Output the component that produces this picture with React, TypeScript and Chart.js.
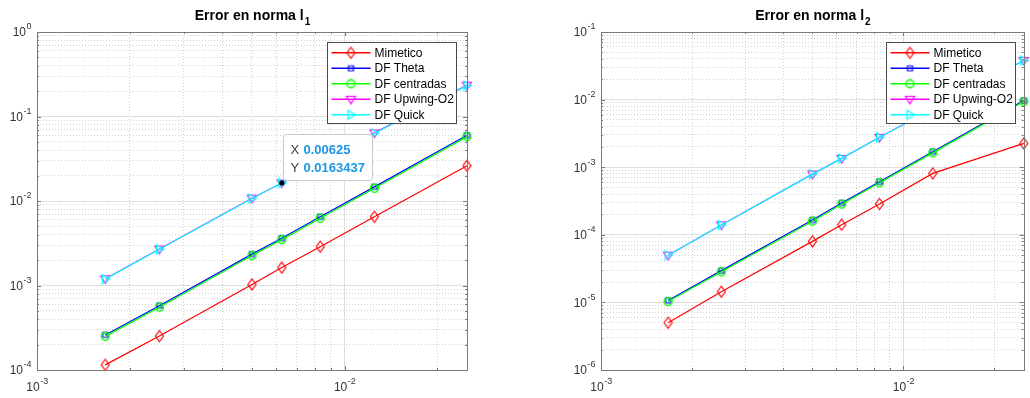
import React, { useEffect, useRef } from 'react';
import { Chart, registerables } from 'chart.js';
Chart.register(...registerables);

// ---------- data ----------
const hValues = [1 / 600, 1 / 400, 1 / 200, 1 / 160, 1 / 120, 1 / 80, 1 / 40];
const seriesNames = ['Mimetico', 'DF Theta', 'DF centradas', 'DF Upwing-O2', 'DF Quick'];

const mimeticoL1 = [1.15e-4, 2.52e-4, 1.03e-3, 1.63e-3, 2.88e-3, 6.5e-3, 2.62e-2];
const thetaL1 = [2.6e-4, 5.76e-4, 2.35e-3, 3.63e-3, 6.5e-3, 1.47e-2, 6.0e-2];
const centradasL1 = [2.5e-4, 5.54e-4, 2.26e-3, 3.49e-3, 6.25e-3, 1.415e-2, 5.78e-2];
const upwindL1 = [1.2e-3, 2.7e-3, 1.08e-2, 1.63437e-2, 2.9e-2, 6.4e-2, 0.235];
const quickL1 = [1.19e-3, 2.68e-3, 1.07e-2, 1.63437e-2, 2.88e-2, 6.35e-2, 0.232];

const mimeticoL2 = [5.0e-6, 1.44e-5, 8.0e-5, 1.41e-4, 2.86e-4, 8.1e-4, 2.25e-3];
const thetaL2 = [1.07e-5, 2.95e-5, 1.65e-4, 2.95e-4, 6.1e-4, 1.69e-3, 9.7e-3];
const centradasL2 = [1.03e-5, 2.84e-5, 1.59e-4, 2.84e-4, 5.87e-4, 1.63e-3, 9.35e-3];
const upwindL2 = [5.0e-5, 1.4e-4, 7.9e-4, 1.35e-3, 2.77e-3, 7.3e-3, 3.8e-2];
const quickL2 = [5.0e-5, 1.4e-4, 7.9e-4, 1.35e-3, 2.77e-3, 7.3e-3, 3.8e-2];

const xRange = [0.001, 0.025];
const yRangeL1 = [1e-4, 1];
const yRangeL2 = [1e-6, 1e-1];
const xTickExponents = [-3, -2];
const yTickExponentsL1 = [-4, -3, -2, -1, 0];
const yTickExponentsL2 = [-6, -5, -4, -3, -2, -1];

const titleMainL1 = 'Error en norma l';
const titleSubL1 = '1';
const titleMainL2 = 'Error en norma l';
const titleSubL2 = '2';

const datatipX = 0.00625;
const datatipY = 0.0163437;
const datatipLabels = ['X', 'Y'];
const datatipValues = ['0.00625', '0.0163437'];

// ---------- styles ----------
const FONT = "'Liberation Sans', Arial, Helvetica, sans-serif";
const seriesStyles = [
  { color: '#ff0000', marker: 'diamond' },
  { color: '#0000ff', marker: 'square' },
  { color: '#00ff00', marker: 'circle' },
  { color: '#ff00ff', marker: 'down' },
  { color: '#00ffff', marker: 'right' },
];
const AXIS_COLOR = '#7a7a7a';
const TEXT_COLOR = '#333333';
const MAJOR_GRID = '#dedede';
const MINOR_GRID = '#d2d2d2';

function isDecade(v: number | undefined) {
  if (v === undefined || v <= 0) return false;
  const l = Math.log10(v);
  return Math.abs(l - Math.round(l)) < 1e-9;
}

function logTicks(min: number, max: number) {
  const out: number[] = [];
  const e0 = Math.floor(Math.log10(min) + 1e-9);
  const e1 = Math.ceil(Math.log10(max) - 1e-9);
  for (let e = e0; e <= e1; e++) {
    for (let m = 1; m <= 9; m++) {
      const v = m * Math.pow(10, e);
      if (v >= min * 0.9999 && v <= max * 1.0001) out.push(v);
    }
  }
  return out;
}

function makeMarker(kind: string, color: string) {
  const c = document.createElement('canvas');
  c.width = 15;
  c.height = 15;
  const g = c.getContext('2d')!;
  g.strokeStyle = color;
  g.lineWidth = 1.2;
  g.translate(7.5, 7.5);
  g.beginPath();
  switch (kind) {
    case 'diamond':
      g.moveTo(0, -5.5); g.lineTo(4, 0); g.lineTo(0, 5.5); g.lineTo(-4, 0); g.closePath();
      break;
    case 'square':
      g.rect(-2.5, -2.5, 5, 5);
      break;
    case 'circle':
      g.lineWidth = 1.4;
      g.arc(0, 0, 4, 0, Math.PI * 2);
      break;
    case 'down':
      g.moveTo(-4.5, -3); g.lineTo(4.5, -3); g.lineTo(0, 4.5); g.closePath();
      break;
    case 'right':
      g.moveTo(-3, -4.5); g.lineTo(-3, 4.5); g.lineTo(4.5, 0); g.closePath();
      break;
  }
  g.stroke();
  return c;
}

function drawPow(ctx: CanvasRenderingContext2D, exp: number, x: number, yc: number, align: 'center' | 'right') {
  const base = '10';
  const sup = String(exp);
  ctx.font = `12px ${FONT}`;
  const w1 = ctx.measureText(base).width;
  ctx.font = `9px ${FONT}`;
  const w2 = ctx.measureText(sup).width;
  const total = w1 + w2;
  const x0 = align === 'center' ? x - total / 2 : x - total;
  ctx.fillStyle = TEXT_COLOR;
  ctx.textBaseline = 'middle';
  ctx.textAlign = 'left';
  ctx.font = `12px ${FONT}`;
  ctx.fillText(base, x0, yc);
  ctx.font = `9px ${FONT}`;
  ctx.fillText(sup, x0 + w1 + 0.5, yc - 6);
}

const matlabPlugin = {
  id: 'matlab',
  afterDatasetsDraw(chart: any, _args: any, opts: any) {
    const ctx: CanvasRenderingContext2D = chart.ctx;
    const { left, right, top, bottom } = chart.chartArea;
    const xs = chart.scales.x;
    const ys = chart.scales.y;
    ctx.save();

    // inner tick marks
    ctx.strokeStyle = AXIS_COLOR;
    ctx.lineWidth = 1;
    ctx.beginPath();
    xs.ticks.forEach((t: any) => {
      const px = Math.round(xs.getPixelForValue(t.value)) + 0.5;
      const len = isDecade(t.value) ? 4 : 2;
      ctx.moveTo(px, bottom); ctx.lineTo(px, bottom - len);
      ctx.moveTo(px, top); ctx.lineTo(px, top + len);
    });
    ys.ticks.forEach((t: any) => {
      const py = Math.round(ys.getPixelForValue(t.value)) + 0.5;
      const len = isDecade(t.value) ? 4 : 2;
      ctx.moveTo(left, py); ctx.lineTo(left + len, py);
      ctx.moveTo(right, py); ctx.lineTo(right - len, py);
    });
    ctx.stroke();

    // axes box
    ctx.strokeRect(Math.round(left) + 0.5, Math.round(top) + 0.5, Math.round(right - left), Math.round(bottom - top));

    // datatip
    if (opts.datatip) {
      const px = xs.getPixelForValue(datatipX);
      const py = ys.getPixelForValue(datatipY);
      const bx = Math.round(px) + 1.5, by = Math.round(py) - 48.5, bw = 89, bh = 46;
      ctx.fillStyle = 'rgba(255,255,255,0.96)';
      ctx.strokeStyle = '#c9c9c9';
      ctx.beginPath();
      const r = 3;
      ctx.moveTo(bx + r, by);
      ctx.arcTo(bx + bw, by, bx + bw, by + bh, r);
      ctx.arcTo(bx + bw, by + bh, bx, by + bh, r);
      ctx.arcTo(bx, by + bh, bx, by, r);
      ctx.arcTo(bx, by, bx + bw, by, r);
      ctx.closePath();
      ctx.fill();
      ctx.stroke();
      ctx.textBaseline = 'middle';
      ctx.textAlign = 'left';
      datatipLabels.forEach((lab, i) => {
        const yy = by + 16 + i * 18;
        ctx.font = `13px ${FONT}`;
        ctx.fillStyle = '#404040';
        ctx.fillText(lab, bx + 7, yy);
        ctx.font = `bold 13px ${FONT}`;
        ctx.fillStyle = '#1e96e6';
        ctx.fillText(datatipValues[i], bx + 20, yy);
      });
      ctx.fillStyle = '#000';
      ctx.beginPath();
      ctx.arc(px, py, 2.6, 0, Math.PI * 2);
      ctx.fill();
    }

    // legend
    const lw = 129, lh = 81;
    const lx = Math.round(right - opts.legendRight - lw) + 0.5;
    const ly = Math.round(top + 10) + 0.5;
    ctx.fillStyle = '#ffffff';
    ctx.fillRect(lx, ly, lw, lh);
    ctx.strokeStyle = '#4a4a4a';
    ctx.lineWidth = 1;
    ctx.strokeRect(lx, ly, lw, lh);
    chart.data.datasets.forEach((ds: any, i: number) => {
      const yy = ly + 10.3 + i * 15.5;
      ctx.strokeStyle = ds.borderColor;
      ctx.lineWidth = 1.4;
      ctx.beginPath();
      ctx.moveTo(lx + 4, yy);
      ctx.lineTo(lx + 43, yy);
      ctx.stroke();
      const img = ds.pointStyle as HTMLCanvasElement;
      ctx.drawImage(img, lx + 23.5 - img.width / 2, yy - img.height / 2);
      ctx.fillStyle = '#000';
      ctx.font = `12px ${FONT}`;
      ctx.textBaseline = 'middle';
      ctx.textAlign = 'left';
      ctx.fillText(ds.label, lx + 47, yy + 0.5);
    });
    ctx.restore();
  },
  afterDraw(chart: any, _args: any, opts: any) {
    const ctx: CanvasRenderingContext2D = chart.ctx;
    const { left, right, bottom } = chart.chartArea;
    const xs = chart.scales.x;
    const ys = chart.scales.y;
    ctx.save();
    opts.xExps.forEach((e: number) => {
      const px = xs.getPixelForValue(Math.pow(10, e));
      drawPow(ctx, e, px, bottom + 18, 'center');
    });
    opts.yExps.forEach((e: number) => {
      const py = ys.getPixelForValue(Math.pow(10, e));
      drawPow(ctx, e, left - 6, py + 1, 'right');
    });
    // title
    ctx.fillStyle = '#000';
    ctx.textBaseline = 'alphabetic';
    ctx.textAlign = 'left';
    ctx.font = `bold 14px ${FONT}`;
    const w1 = ctx.measureText(opts.titleMain).width;
    ctx.font = `bold 10px ${FONT}`;
    const w2 = ctx.measureText(opts.titleSub).width;
    const cx = (left + right) / 2;
    const x0 = cx - (w1 + w2) / 2;
    ctx.font = `bold 14px ${FONT}`;
    ctx.fillText(opts.titleMain, x0, 20);
    ctx.font = `bold 10px ${FONT}`;
    ctx.fillText(opts.titleSub, x0 + w1 + 1, 25);
    ctx.restore();
  },
};

function makeChart(canvas: HTMLCanvasElement, cfg: any) {
  const markers = seriesStyles.map((s) => makeMarker(s.marker, s.color));
  const n = cfg.series.length;
  const datasets = cfg.series.map((vals: number[], i: number) => ({
    label: seriesNames[i],
    data: hValues.map((h, j) => ({ x: h, y: vals[j] })),
    borderColor: seriesStyles[i].color,
    backgroundColor: 'transparent',
    borderWidth: 1.2,
    pointStyle: markers[i],
    pointRadius: 5,
    pointHoverRadius: 5,
    tension: 0,
    clip: false,
    order: n - 1 - i,
  }));
  const gridColor = (c: any) => (isDecade(c.tick?.value) ? MAJOR_GRID : MINOR_GRID);
  const gridDash = (c: any) => (c.tick && !isDecade(c.tick.value) ? [1, 2] : []);
  return new Chart(canvas, {
    type: 'line',
    data: { datasets },
    plugins: [matlabPlugin as any],
    options: {
      animation: false,
      responsive: false,
      maintainAspectRatio: false,
      devicePixelRatio: 1,
      events: [],
      layout: { padding: { left: 0, right: cfg.padRight, top: 32, bottom: 0 } },
      plugins: {
        legend: { display: false },
        tooltip: { enabled: false },
        title: { display: false },
        matlab: {
          datatip: cfg.datatip,
          legendRight: cfg.legendRight,
          xExps: xTickExponents,
          yExps: cfg.yExps,
          titleMain: cfg.titleMain,
          titleSub: cfg.titleSub,
        },
      } as any,
      scales: {
        x: {
          type: 'logarithmic',
          min: xRange[0],
          max: xRange[1],
          afterBuildTicks: (s: any) => {
            s.ticks = logTicks(xRange[0], xRange[1]).map((v) => ({ value: v, major: isDecade(v) }));
          },
          afterFit: (s: any) => { s.height = 28; },
          ticks: { display: false },
          grid: { color: gridColor, lineWidth: 1, drawTicks: false },
          border: { display: false, dash: gridDash },
        } as any,
        y: {
          type: 'logarithmic',
          min: cfg.yRange[0],
          max: cfg.yRange[1],
          afterBuildTicks: (s: any) => {
            s.ticks = logTicks(cfg.yRange[0], cfg.yRange[1]).map((v) => ({ value: v, major: isDecade(v) }));
          },
          afterFit: (s: any) => { s.width = cfg.yWidth; },
          ticks: { display: false },
          grid: { color: gridColor, lineWidth: 1, drawTicks: false },
          border: { display: false, dash: gridDash },
        } as any,
      },
    },
  });
}

export default function App() {
  const leftRef = useRef<HTMLCanvasElement>(null);
  const rightRef = useRef<HTMLCanvasElement>(null);
  useEffect(() => {
    const c1 = makeChart(leftRef.current!, {
      series: [mimeticoL1, thetaL1, centradasL1, upwindL1, quickL1],
      yRange: yRangeL1,
      yExps: yTickExponentsL1,
      yWidth: 37,
      padRight: 48,
      legendRight: 11,
      datatip: true,
      titleMain: titleMainL1,
      titleSub: titleSubL1,
    });
    const c2 = makeChart(rightRef.current!, {
      series: [mimeticoL2, thetaL2, centradasL2, upwindL2, quickL2],
      yRange: yRangeL2,
      yExps: yTickExponentsL2,
      yWidth: 86,
      padRight: 2,
      legendRight: 9,
      datatip: false,
      titleMain: titleMainL2,
      titleSub: titleSubL2,
    });
    return () => {
      c1.destroy();
      c2.destroy();
    };
  }, []);
  return (
    <div style={{ position: 'fixed', left: 0, top: 0, width: 1030, height: 398, background: '#fff', overflow: 'hidden' }}>
      <canvas ref={leftRef} width={515} height={398} style={{ position: 'absolute', left: 0, top: 0, width: 515, height: 398 }} />
      <canvas ref={rightRef} width={515} height={398} style={{ position: 'absolute', left: 515, top: 0, width: 515, height: 398 }} />
    </div>
  );
}
